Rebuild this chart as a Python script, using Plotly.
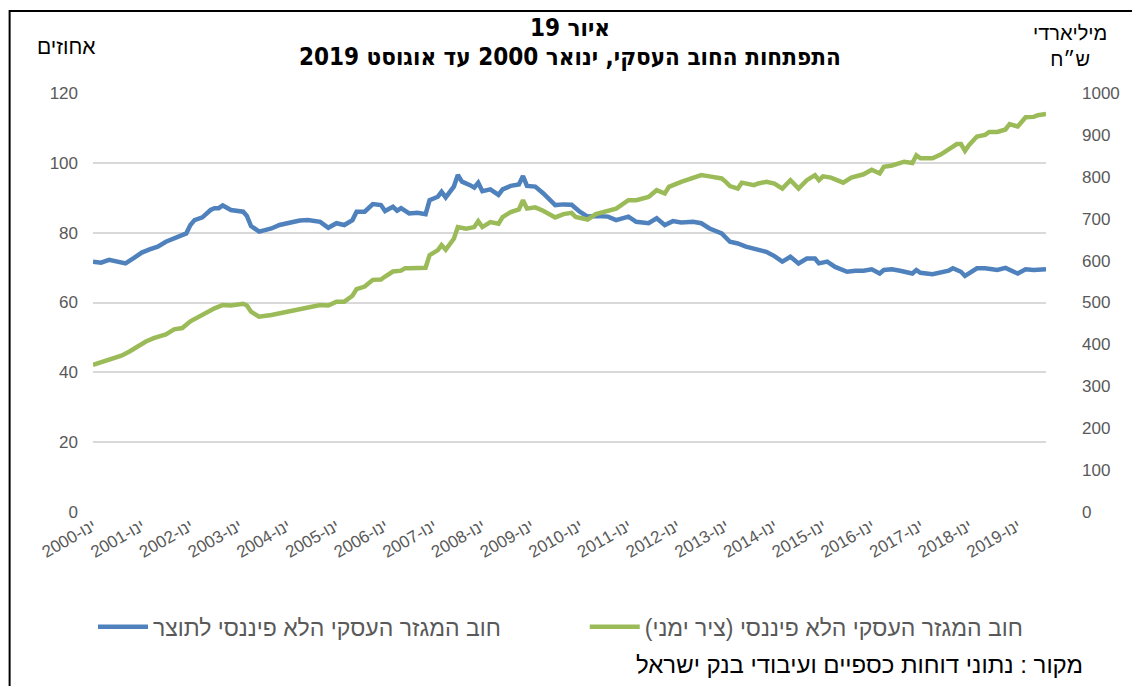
import plotly.graph_objects as go

# month index (0 = Jan 2000) and values
blue_months = [0, 2, 4, 6, 8, 10, 12, 14, 16, 18, 21, 23, 24, 25, 27, 29, 30, 31, 32, 34,
               37, 38, 39, 41, 44, 46, 49, 51, 53, 56, 58, 60, 62, 64, 65, 67, 69, 71, 72, 74,
               75, 76, 78, 80, 82, 83, 85, 86, 87, 89, 90, 91, 93, 94, 95, 96, 98, 100, 101, 103,
               105, 106, 107, 109, 111, 114, 116, 118, 120, 122, 124, 127, 129, 132, 134, 137, 139, 141, 143, 145,
               148, 150, 152, 155, 157, 159, 161, 164, 166, 168, 170, 172, 174, 176, 178, 179, 181, 183, 186, 188,
               190, 192, 194, 195, 197, 199, 202, 203, 204, 207, 209, 211, 212, 214, 215, 218, 220, 223, 225, 228,
               230, 232, 235]
blue_values = [71.7, 71.4, 72.2, 71.7, 71.2, 72.7, 74.3, 75.2, 76.0, 77.4, 78.9, 79.8, 82.2, 83.6, 84.4, 86.5, 87.0, 87.0, 87.8, 86.5,
               86.0, 84.8, 81.9, 80.3, 81.2, 82.2, 83.0, 83.5, 83.6, 83.1, 81.4, 82.7, 82.2, 83.6, 86.0, 86.0, 88.2, 87.9, 86.2, 87.4,
               86.3, 87.0, 85.5, 85.7, 85.3, 89.3, 90.3, 91.7, 90.1, 93.2, 96.5, 94.6, 93.6, 92.9, 94.3, 91.9, 92.4, 90.8, 92.4, 93.4,
               93.8, 96.2, 93.4, 93.2, 91.3, 87.9, 88.1, 88.0, 86.0, 84.6, 84.8, 84.6, 83.6, 84.6, 83.1, 82.7, 84.1, 82.2, 83.3, 82.9,
               83.1, 82.7, 81.2, 79.8, 77.4, 76.9, 76.0, 75.2, 74.5, 73.3, 71.7, 73.1, 71.2, 72.6, 72.6, 71.2, 71.7, 70.2, 68.8, 69.1,
               69.1, 69.5, 68.3, 69.3, 69.5, 69.1, 68.3, 69.3, 68.5, 68.1, 68.5, 69.1, 69.8, 68.8, 67.6, 69.8, 69.8, 69.3, 69.9, 68.3,
               69.5, 69.3, 69.5]

green_months = [0, 2, 5, 7, 9, 11, 13, 15, 18, 20, 22, 24, 26, 28, 30, 32, 34, 37, 38, 39,
                41, 44, 47, 51, 53, 56, 58, 60, 62, 64, 65, 67, 69, 71, 72, 74, 76, 77, 78, 82,
                83, 85, 86, 87, 89, 90, 92, 94, 95, 96, 98, 100, 101, 103, 105, 106, 107, 109, 111, 114,
                116, 118, 119, 122, 124, 127, 129, 132, 134, 137, 139, 141, 142, 145, 148, 150, 152, 155, 156, 157,
                159, 160, 163, 164, 166, 168, 170, 172, 174, 176, 178, 179, 180, 182, 185, 187, 190, 192, 194, 195,
                197, 200, 202, 203, 204, 207, 209, 211, 213, 214, 215, 216, 218, 220, 221, 223, 225, 226, 228, 230,
                232, 233, 235]
green_values = [351, 357, 367, 373, 383, 395, 407, 415, 424, 436, 439, 455, 465, 478, 486, 494, 493, 497, 493, 478,
                466, 470, 476, 485, 490, 494, 493, 502, 502, 516, 532, 538, 554, 555, 562, 574, 576, 582, 582, 583,
                613, 625, 637, 626, 652, 680, 676, 680, 694, 680, 692, 688, 704, 716, 722, 744, 724, 727, 719, 703,
                711, 714, 704, 698, 711, 720, 724, 744, 744, 752, 768, 760, 776, 788, 798, 804, 801, 796, 788, 778,
                772, 786, 780, 784, 788, 784, 772, 792, 772, 792, 804, 792, 801, 798, 786, 798, 806, 817, 808, 824,
                827, 836, 833, 851, 844, 844, 853, 864, 878, 878, 862, 876, 896, 900, 907, 907, 913, 926, 920, 942,
                943, 947, 950]

years = list(range(2000, 2020))
tick_labels = [f"{y}-ינו" for y in years]

blue_name = "חוב המגזר העסקי הלא פיננסי לתוצר"
green_name = "חוב המגזר העסקי הלא פיננסי (ציר ימני)"
title_1 = "איור 19"
title_2 = "התפתחות החוב העסקי, ינואר 2000 עד אוגוסט 2019"
left_title = "אחוזים"
right_title = ["מיליארדי", "ש״ח"]
source = "מקור : נתוני דוחות כספיים ועיבודי בנק ישראל"


def to_date(m):
    return f"{2000 + m // 12}-{m % 12 + 1:02d}-01"


def rtl(s):
    # wrap in a right-to-left embedding so the Hebrew reads correctly
    return "\u202b" + s + "\u202c"


FONT = "Liberation Sans, DejaVu Sans, sans-serif"
TITLE_FONT = "DejaVu Sans Condensed, Liberation Sans, sans-serif"
GREY = "#595959"

fig = go.Figure()

fig.add_trace(go.Scatter(
    x=[to_date(m) for m in blue_months], y=blue_values,
    mode="lines", name=rtl(blue_name), legend="legend",
    line=dict(color="#4f81bd", width=4.5),
))
fig.add_trace(go.Scatter(
    x=[to_date(m) for m in green_months], y=green_values,
    mode="lines", name=rtl(green_name), yaxis="y2", legend="legend2",
    line=dict(color="#9bbb59", width=4.5),
))

# page body has an 8px margin, so the margins are trimmed to land the plot area in place
fig.update_layout(
    width=1140, height=686,
    margin=dict(l=85, r=102, t=85, b=182, autoexpand=False),
    paper_bgcolor="white", plot_bgcolor="white",
    font=dict(family=FONT, size=17, color=GREY),
    xaxis=dict(
        type="date", range=["2000-01-01", "2019-08-01"],
        tickvals=[f"{y}-01-01" for y in years], ticktext=tick_labels,
        tickangle=-30, showgrid=False, zeroline=False, showline=False,
        ticks="", tickfont=dict(size=17, color=GREY),
    ),
    yaxis=dict(
        range=[0, 120], dtick=20, showgrid=True, gridcolor="#d9d9d9", gridwidth=1.5,
        zeroline=False, ticks="", ticklabelstandoff=14,
    ),
    yaxis2=dict(
        range=[0, 1000], dtick=100, overlaying="y", side="right", showgrid=False,
        zeroline=False, ticks="", ticklabelstandoff=35,
    ),
    legend=dict(
        orientation="h", x=0.0, xanchor="left", y=-0.274, yanchor="middle",
        font=dict(size=23, color=GREY), bgcolor="rgba(0,0,0,0)", itemwidth=50,
    ),
    legend2=dict(
        orientation="h", x=0.516, xanchor="left", y=-0.274, yanchor="middle",
        font=dict(size=23, color=GREY), bgcolor="rgba(0,0,0,0)", itemwidth=50,
    ),
    showlegend=True,
)

fig.add_annotation(x=0.5005, y=1.155, xref="paper", yref="paper", xanchor="center", yanchor="middle",
                   text="<b>" + rtl(title_1) + "</b>",
                   showarrow=False, font=dict(family=TITLE_FONT, size=24, color="black"))
fig.add_annotation(x=0.5005, y=1.086, xref="paper", yref="paper", xanchor="center", yanchor="middle",
                   text="<b>" + rtl(title_2) + "</b>",
                   showarrow=False, font=dict(family=TITLE_FONT, size=24, color="black"))
fig.add_annotation(x=-0.028, y=1.110, xref="paper", yref="paper", xanchor="center", yanchor="middle",
                   text=rtl(left_title), showarrow=False, font=dict(size=21, color="black"))
fig.add_annotation(x=1.025, y=1.112, xref="paper", yref="paper", xanchor="center", yanchor="middle",
                   text="<br>".join(rtl(s) for s in right_title),
                   showarrow=False, font=dict(size=20, color="black"))
fig.add_annotation(x=1.041, y=-0.365, xref="paper", yref="paper", xanchor="right", yanchor="middle",
                   text=rtl(source), showarrow=False, font=dict(size=24, color="black"))

# frame round the figure (left edge kept inside the drawing surface)
fig.add_shape(type="rect", xref="paper", yref="paper", x0=-0.0875, x1=1.2, y0=-0.6, y1=1.196,
              line=dict(color="black", width=2), layer="below")

fig.write_html("out.html")
